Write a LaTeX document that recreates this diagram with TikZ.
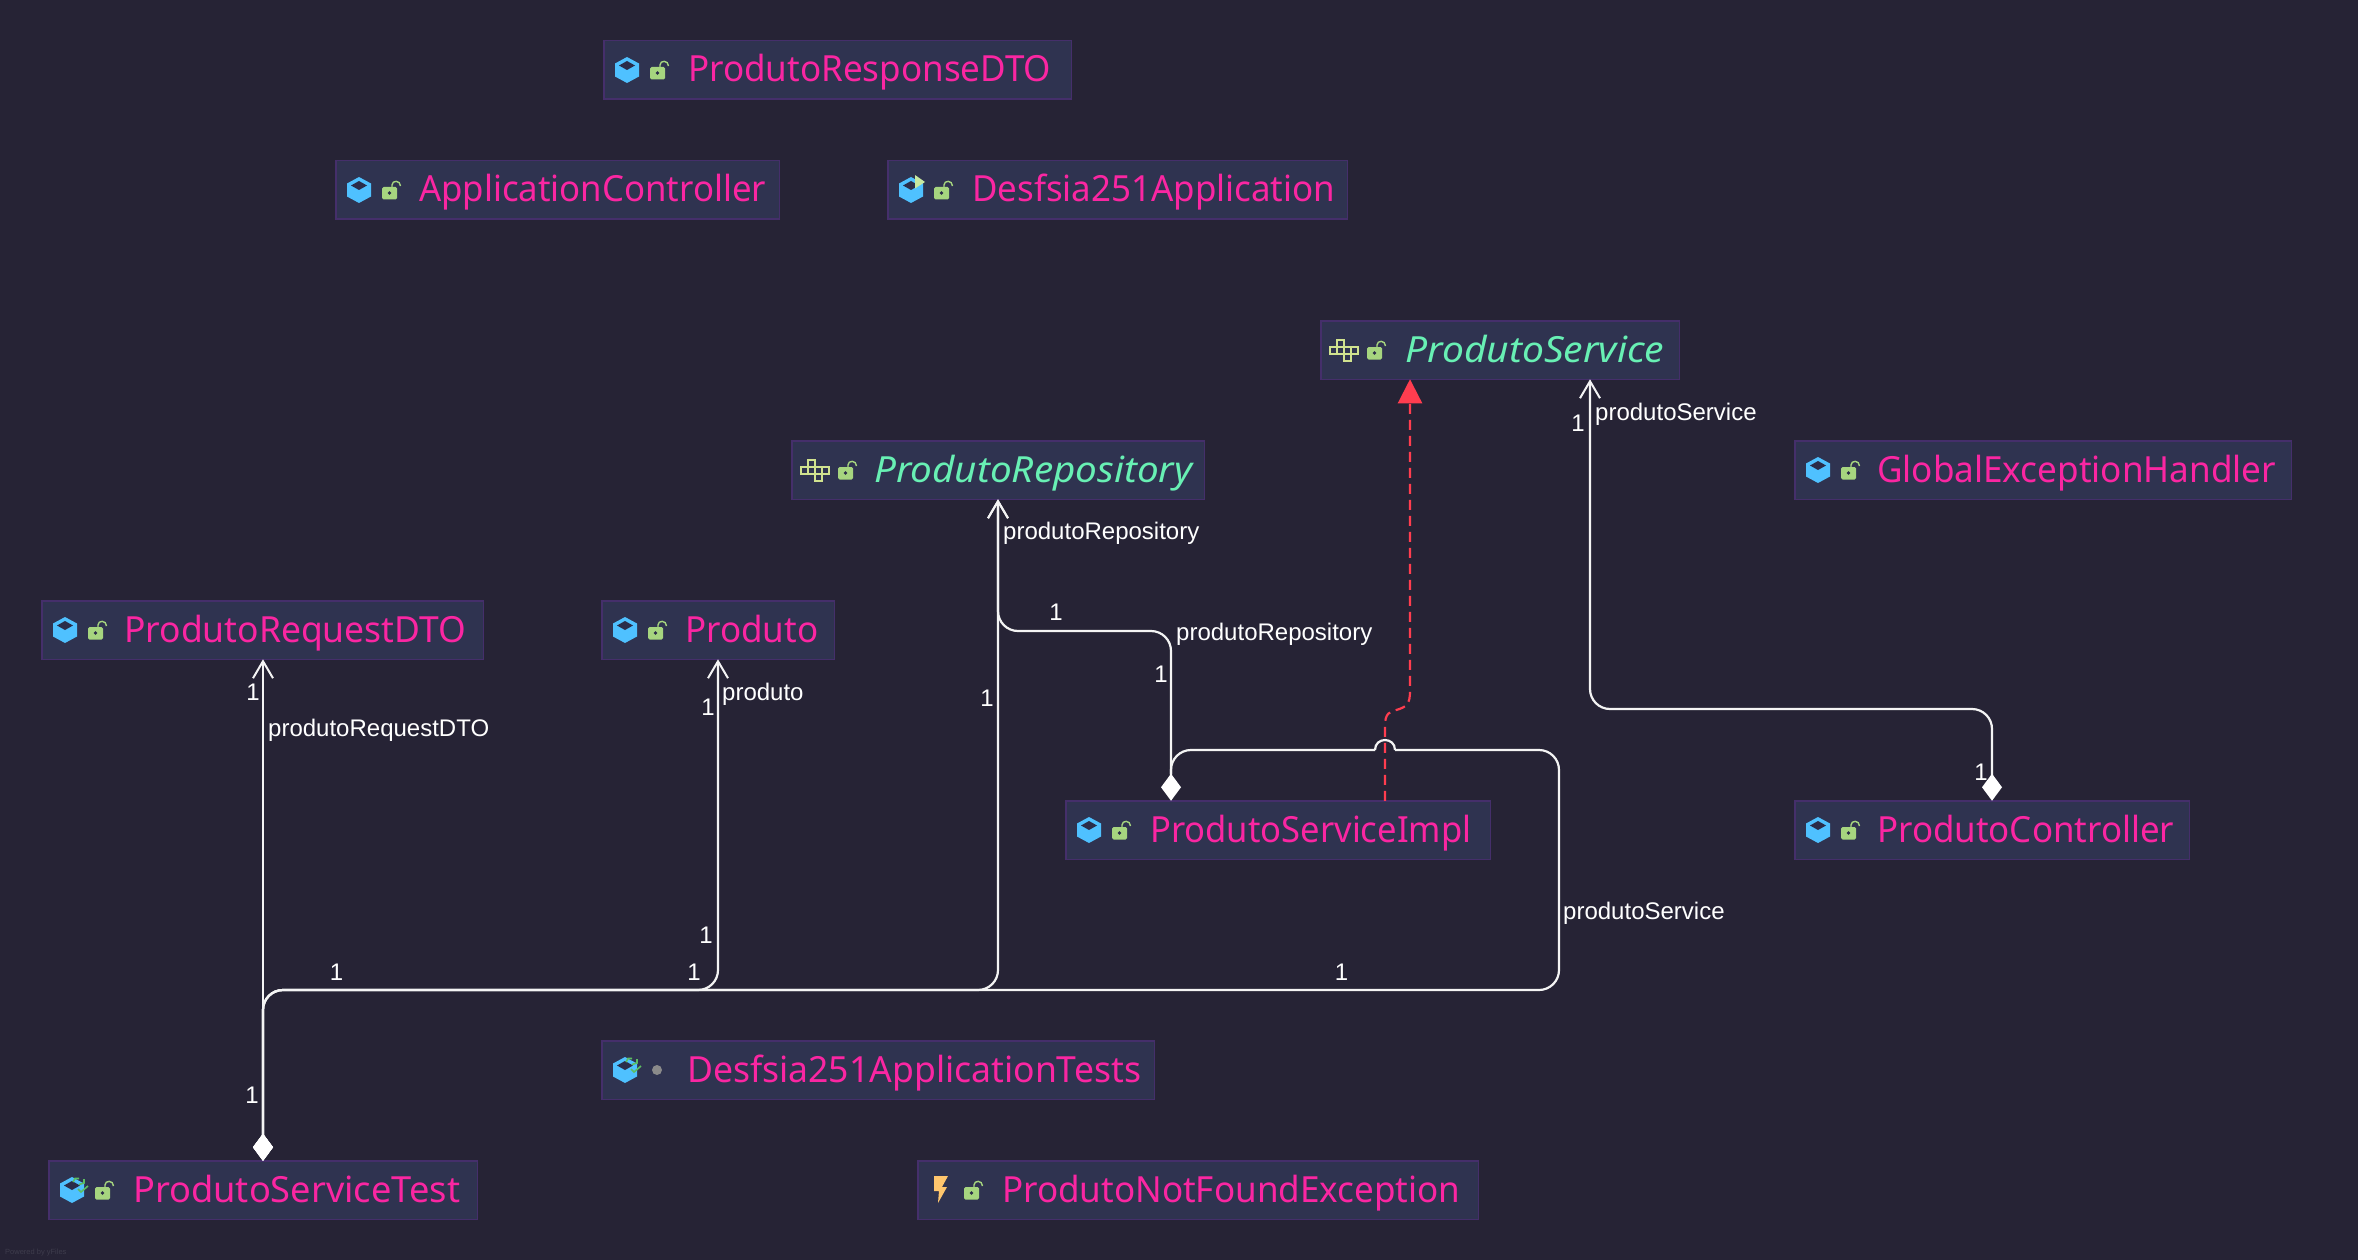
\documentclass[tikz,border=0pt]{standalone}
\usepackage{fontspec}
\usepackage{graphicx}
\usetikzlibrary{arrows.meta,calc}
\setmainfont{Noto Sans}
\newfontfamily\edgefont{Liberation Sans}
\definecolor{bgc}{HTML}{262335}
\definecolor{boxc}{HTML}{2F3350}
\definecolor{boxline}{HTML}{452F6B}
\definecolor{pinkc}{HTML}{FA26A2}
\definecolor{mintc}{HTML}{68F0B4}
\definecolor{redc}{HTML}{FF3D4F}
\definecolor{whitec}{HTML}{F4F4F4}
\definecolor{cubec}{HTML}{4FC1FF}
\definecolor{cubetop}{HTML}{2B2D4A}
\definecolor{lockc}{HTML}{A6D57F}
\definecolor{gridc}{HTML}{D0E28F}
\definecolor{flagc}{HTML}{C8E8A0}
\definecolor{testc}{HTML}{5DBE62}
\definecolor{boltc}{HTML}{FFC66D}
\definecolor{dotc}{HTML}{8A8A8A}
\definecolor{markc}{HTML}{3E3C4C}
\tikzset{
  x=1pt,y=-1pt,
  clsbox/.style={draw=boxline,fill=boxc,line width=1.5pt,inner sep=0pt,outer sep=0pt,anchor=north west,minimum height=58.5pt},
  clstext/.style={inner sep=0pt,anchor=base west,text=pinkc,font=\fontsize{36}{36}\selectfont},
  ifctext/.style={inner sep=0pt,anchor=base west,text=mintc,font=\fontsize{36}{36}\selectfont\itshape},
  edgelabel/.style={inner sep=0pt,anchor=base west,text=white,font=\edgefont\fontsize{24}{24}\selectfont},
  multlabel/.style={inner sep=0pt,anchor=base,text=white,font=\edgefont\fontsize{24}{24}\selectfont},
  link/.style={draw=whitec,line width=2.2pt,rounded corners=20pt},
  own/.style={{Diamond[length=27pt,width=20pt,fill=white,color=white]}-{Straight Barb[length=17pt,width=20pt,line width=2pt,color=whitec]}},
  realize/.style={draw=redc,line width=2.2pt,dash pattern=on 10pt off 6pt,-{Triangle[length=24pt,width=24pt,fill=redc,color=redc]}},
}
% name, x1, x2, y1, text x, text width, text
\newcommand{\clsnode}[8]{%
  \pgfmathsetmacro{\wdbox}{#3-#2-1.5}%
  \pgfmathsetmacro{\wdtxt}{#6+2}%
  \node[clsbox,minimum width=\wdbox pt] (#1) at (#2+0.75,#4+0.75) {};
  \node[#8] (#1-t) at (#5-1,#4+42) {\resizebox{\wdtxt pt}{\height}{#7}};
}
\newcommand{\cubeicon}[2]{%
  \begin{scope}[shift={(#1,#2)}]
    \fill[cubec] (24,17) -- (36,23.5) -- (36,36.5) -- (24,43) -- (12,36.5) -- (12,23.5) -- cycle;
    \fill[cubetop] (24,21) -- (32,25.5) -- (24,30) -- (16,25.5) -- cycle;
  \end{scope}}
\newcommand{\lockicon}[2]{%
  \begin{scope}[shift={(#1,#2)}]
    \draw[lockc,line width=1.4pt] (57,27) -- (57,25) .. controls (57,20) and (65.5,20) .. (65.5,26);
    \fill[lockc,rounded corners=1.5pt] (47,27) rectangle (62,39.5);
    \fill[cubetop] (54.5,33) circle[radius=1.8];
  \end{scope}}
\newcommand{\gridicon}[2]{%
  \begin{scope}[shift={(#1,#2)}]
    \draw[gridc,line width=2.2pt] (17,20) rectangle (24,27);
    \draw[gridc,line width=2.2pt] (10,27) rectangle (17,34);
    \draw[gridc,line width=2.2pt] (17,27) rectangle (24,34);
    \draw[gridc,line width=2.2pt] (24,27) rectangle (31,34);
    \draw[gridc,line width=2.2pt] (31,27) rectangle (38,34);
    \draw[gridc,line width=2.2pt] (24,34) rectangle (31,41);
  \end{scope}}
\newcommand{\flagicon}[2]{%
  \begin{scope}[shift={(#1,#2)}]
    \fill[flagc] (28,15) -- (38,22) -- (28,28.5) -- cycle;
  \end{scope}}
\newcommand{\testicon}[2]{%
  \begin{scope}[shift={(#1,#2)}]
    \draw[testc,line width=1.6pt] (25,22) -- (27,18.5) -- (31,18.5);
    \draw[testc,line width=1.6pt] (36,19) -- (36,23) -- (31,24.5);
    \draw[testc,line width=1.6pt] (30,29) -- (33,32) -- (40,26);
  \end{scope}}
\newcommand{\bolticon}[2]{%
  \begin{scope}[shift={(#1,#2)}]
    \fill[boltc] (17,16) -- (31,16) -- (25,27) -- (30,27) -- (21,43) -- (22,31) -- (17,31) -- cycle;
  \end{scope}}
\newcommand{\doticon}[2]{%
  \fill[dotc] (#1+56,#2+30) circle[radius=5];}
\begin{document}
\begin{tikzpicture}
\useasboundingbox (0,0) rectangle (2358,1260);
\fill[bgc] (0,0) rectangle (2358,1260);

\clsnode{resp}{603}{1072}{40}{689}{361}{ProdutoResponseDTO}{clstext}
\clsnode{ctl}{335}{780}{160}{420}{345}{ApplicationController}{clstext}
\clsnode{app}{887}{1348}{160}{973}{361}{Desfsia251Application}{clstext}
\clsnode{svc}{1320}{1680}{320}{1406}{257}{ProdutoService}{ifctext}
\clsnode{repo}{791}{1205}{440}{875}{316}{ProdutoRepository}{ifctext}
\clsnode{glob}{1794}{2292}{440}{1878}{397}{GlobalExceptionHandler}{clstext}
\clsnode{req}{41}{484}{600}{125}{340}{ProdutoRequestDTO}{clstext}
\clsnode{prod}{601}{835}{600}{686}{131}{Produto}{clstext}
\clsnode{impl}{1065}{1491}{800}{1151}{319}{ProdutoServiceImpl}{clstext}
\clsnode{cont}{1794}{2190}{800}{1878}{295}{ProdutoController}{clstext}
\clsnode{tests}{601}{1155}{1040}{688}{452}{Desfsia251ApplicationTests}{clstext}
\clsnode{test}{48}{478}{1160}{134}{325}{ProdutoServiceTest}{clstext}
\clsnode{exc}{917}{1479}{1160}{1003}{456}{ProdutoNotFoundException}{clstext}

\cubeicon{603}{40}\lockicon{603}{40}
\cubeicon{335}{160}\lockicon{335}{160}
\cubeicon{887}{160}\flagicon{887}{160}\lockicon{887}{160}
\gridicon{1320}{320}\lockicon{1320}{320}
\gridicon{791}{440}\lockicon{791}{440}
\cubeicon{1794}{440}\lockicon{1794}{440}
\cubeicon{41}{600}\lockicon{41}{600}
\cubeicon{601}{600}\lockicon{601}{600}
\cubeicon{1065}{800}\lockicon{1065}{800}
\cubeicon{1794}{800}\lockicon{1794}{800}
\cubeicon{601}{1040}\testicon{601}{1040}\doticon{601}{1040}
\cubeicon{48}{1160}\testicon{48}{1160}\lockicon{48}{1160}
\bolticon{917}{1160}\lockicon{917}{1160}

% routing levels and ports
\coordinate (busT) at (0,990);
\coordinate (busR) at (0,631);
\coordinate (busC) at (0,709);
\coordinate (busI) at (0,750);
\coordinate (edgeI) at (1559,0);
\coordinate (implL) at ([xshift=-107pt]impl.north);
\coordinate (implR) at ([xshift=107pt]impl.north);
\coordinate (svcL) at ([xshift=-90pt]svc.south);
\coordinate (svcR) at ([xshift=90pt]svc.south);
\coordinate (xing) at (implR |- busI);
\coordinate (jumpA) at ($(xing)+(10,0)$);
\coordinate (jumpB) at ($(xing)+(-10,0)$);

% test -> implementation (its head lies under the diamond), hopping over the dashed line
\draw[link,{Diamond[length=27pt,width=20pt,fill=white,color=white]}-]
  (test.north) -- (test.north |- busT) -- (edgeI |- busT) -- (edgeI |- busI) -- (jumpA);
\draw[draw=whitec,line width=2.2pt] (jumpA) .. controls ($(jumpA)+(0,-13.3)$) and ($(jumpB)+(0,-13.3)$) .. (jumpB);
\draw[link] (jumpB) -- (implL |- busI) -- ([yshift=27pt]implL);
\draw[link,own] (test.north) -- (test.north |- req.south);
\draw[link,own] (test.north) -- (test.north |- busT) -- (prod.south |- busT) -- (prod.south);
\draw[link,own] (test.north) -- (test.north |- busT) -- (repo.south |- busT) -- (repo.south);
\draw[link,own] (implL) -- (implL |- busR) -- (repo.south |- busR) -- (repo.south);
\draw[link,own] (cont.north) -- (cont.north |- busC) -- (svcR |- busC) -- (svcR);

\draw[realize] (implR) -- ([yshift=75pt]implR)
  .. controls ([yshift=88pt]implR) and ([xshift=5pt,yshift=89pt]implR) .. ([xshift=12pt,yshift=91pt]implR)
  .. controls ([xshift=22pt,yshift=94pt]implR) and ([xshift=25pt,yshift=97pt]implR) .. ([xshift=25pt,yshift=110pt]implR)
  -- (svcL);

\node[edgelabel] (l1) at (1003,539) {produtoRepository};
\node[edgelabel] (l2) at (1176,640) {produtoRepository};
\node[edgelabel] (l3) at (1595,420) {produtoService};
\node[edgelabel] (l4) at (1563,919) {produtoService};
\node[edgelabel] (l5) at (722,700) {produto};
\node[edgelabel] (l6) at (268,736) {produtoRequestDTO};

\node[multlabel] (m1) at (1578,431) {1};
\node[multlabel] (m2) at (1056,620) {1};
\node[multlabel] (m3) at (1161,682) {1};
\node[multlabel] (m4) at (987,706) {1};
\node[multlabel] (m5) at (253,700) {1};
\node[multlabel] (m6) at (708,715) {1};
\node[multlabel] (m7) at (706,943) {1};
\node[multlabel] (m8) at (336.5,980) {1};
\node[multlabel] (m9) at (694,980) {1};
\node[multlabel] (m10) at (1341.5,980) {1};
\node[multlabel] (m11) at (252,1103) {1};
\node[multlabel] (m12) at (1981,780) {1};

\node[inner sep=0pt,anchor=base west,text=markc,font=\edgefont\fontsize{7.5}{8}\selectfont] (mark) at (5,1254) {Powered by yFiles};
\end{tikzpicture}
\end{document}
